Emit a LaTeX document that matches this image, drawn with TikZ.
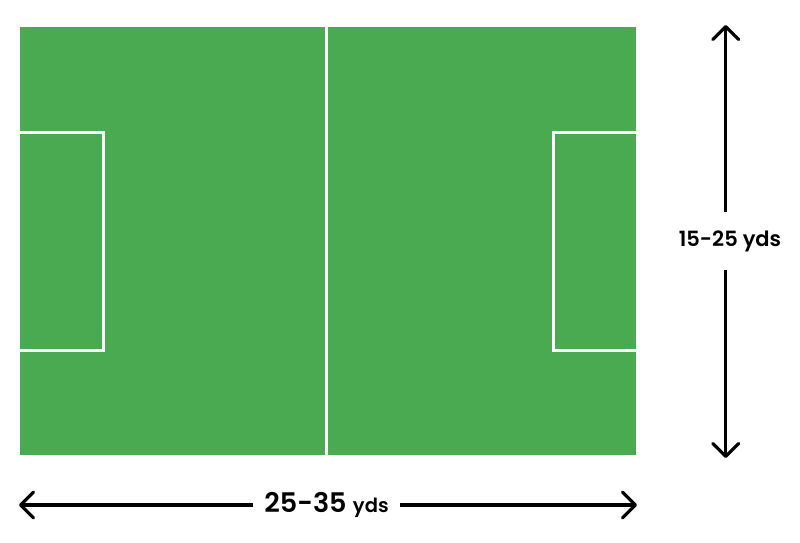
\documentclass[tikz,border=0pt]{standalone}
\usepackage{fontspec}
\setmainfont{Poppins}
\newfontfamily\labelfont{Poppins SemiBold}
\usetikzlibrary{arrows.meta}
\definecolor{pitch}{RGB}{74,170,81}
\tikzset{
  pitchline/.style={draw=white,line width=3pt},
  dimarrow/.style={draw=black,line width=3.2pt,-{Straight Barb[length=13pt,width=26pt,line width=3.2pt,round]}},
  dimlabel/.style={font=\labelfont,text=black,inner sep=0pt}
}
\begin{document}
\begin{tikzpicture}[x=1pt,y=-1pt]
\useasboundingbox (0,0) rectangle (800,542);
% field
\node[fill=pitch,draw=none,minimum width=616pt,minimum height=428pt,inner sep=0pt,anchor=north west] (field) at (20,27) {};
\draw[pitchline] (326.5,27) -- (326.5,455);
\draw[pitchline] (20,132.5) -- (103,132.5) -- (103,350) -- (20,350);
\draw[pitchline] (636,132.5) -- (553,132.5) -- (553,350) -- (636,350);
% horizontal dimension
\node[dimlabel,minimum width=147pt,minimum height=20pt] (hlab) at (326.5,505) {\fontsize{27}{30}\selectfont 25-35 {\fontsize{19.5}{22}\selectfont yds}};
\coordinate (hleft) at (19,505);
\coordinate (hright) at (637,505);
\draw[dimarrow] (hlab.west) -- (hleft);
\draw[dimarrow] (hlab.east) -- (hright);
% vertical dimension
\coordinate (vtop) at (725.7,25);
\coordinate (vbot) at (725.7,458);
\node[dimlabel,minimum height=58pt] (vlab) at (730,241) {\fontsize{21}{24}\selectfont 15-25 yds};
\draw[dimarrow] (vlab.north -| vtop) -- (vtop);
\draw[dimarrow] (vlab.south -| vbot) -- (vbot);
\end{tikzpicture}
\end{document}
